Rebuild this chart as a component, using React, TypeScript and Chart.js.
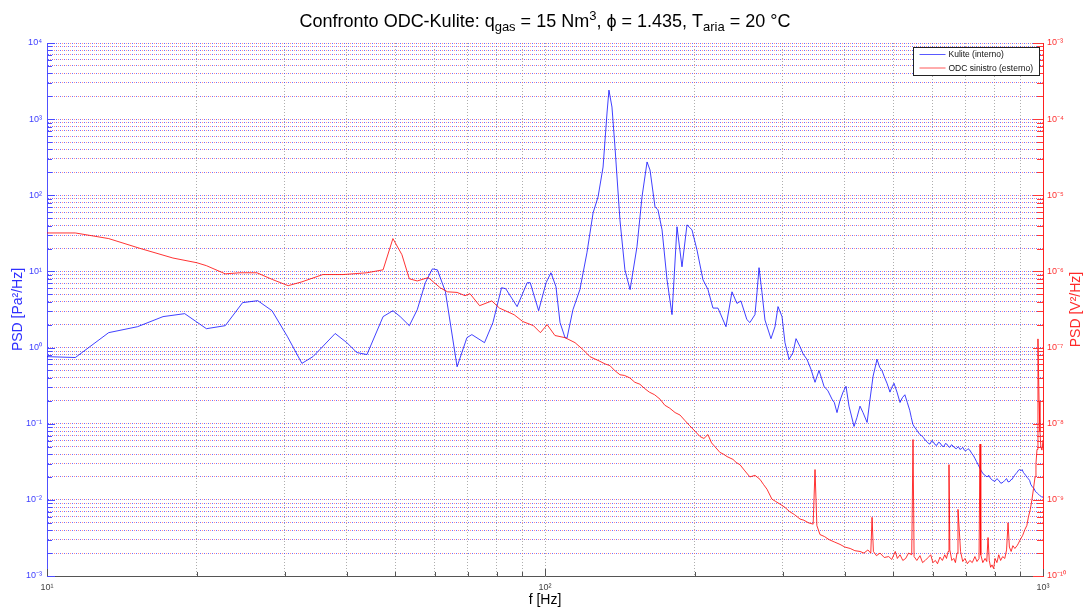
import React, { useEffect, useRef } from 'react';
import { Chart, registerables } from 'chart.js';

Chart.register(...registerables);

// ---------- data ----------
// Kulite (interno): [frequency Hz, PSD Pa^2/Hz]
const kuliteData: [number, number][] = [
  [10, 0.76], [11.4, 0.74], [13.3, 1.57], [15.2, 1.88], [17.1, 2.55], [18.9, 2.79], [20.9, 1.77],
  [22.8, 1.94], [24.7, 3.89], [26.5, 4.13], [28.3, 3.05], [30.4, 1.39], [32.5, 0.62], [34.2, 0.76],
  [35.3, 0.94], [37.9, 1.53], [40.0, 1.16], [41.9, 0.86], [43.9, 0.81], [47.3, 2.55], [49.5, 3.05],
  [51.2, 2.55], [53.4, 1.94], [55.4, 3.15], [57.5, 7.11], [59.4, 10.8], [60.8, 10.5], [63.1, 5.42],
  [66.6, 0.56], [69.7, 1.35], [71.3, 1.48], [75.6, 1.16], [78.6, 2.13], [81.8, 6.11], [83.4, 5.93],
  [87.9, 3.45], [92.1, 7.11], [93.4, 7.11], [97.1, 3.05], [100.5, 7.11], [102.8, 9.61], [105.2, 6.3],
  [107.2, 2.13], [109.7, 1.35], [110.7, 1.33], [113.8, 3.15], [117.5, 5.76], [121.4, 17.6], [124.9, 58.8],
  [127.8, 95.2], [130.8, 235], [133.2, 1202], [134.4, 2404], [136.3, 1440], [138.2, 431], [141.4, 47.6],
  [144.7, 10.5], [148.2, 5.76], [153.0, 21.1], [156.6, 95.2], [160.3, 274], [162.5, 215], [166.3, 70.5],
  [168.6, 64.4], [171.8, 35.2], [175.8, 7.78], [179.9, 2.71], [184.1, 38.6], [188.4, 11.5], [192.8, 40.9],
  [197.3, 35.2], [201.9, 19.2], [207.6, 7.78], [212.4, 5.8], [217.4, 3.3], [222.5, 3.3], [230.9, 1.88],
  [237.4, 5.4], [242.9, 3.8], [247.4, 4.1], [254.3, 2.33], [257.9, 2.13], [264.0, 2.71], [266.5, 5.26],
  [269.0, 11.2], [272.7, 5.3], [276.5, 2.3], [284.3, 1.31], [289.6, 1.88], [293.7, 3.45], [299.2, 2.55],
  [303.3, 1.16], [309.1, 0.7], [314.8, 0.86], [319.2, 1.31], [325.1, 1.03], [330, 0.82], [335.8, 0.7],
  [342, 0.52], [348.5, 0.35], [355.0, 0.5], [359, 0.4], [363.3, 0.31], [370, 0.27], [377.0, 0.21],
  [381, 0.19], [385.8, 0.14], [391, 0.2], [396.7, 0.26], [402.2, 0.31], [407.8, 0.17], [412, 0.13],
  [417.4, 0.092], [423, 0.12], [429.1, 0.17], [435.1, 0.14], [443.4, 0.104], [449, 0.2], [455.8, 0.42],
  [464.2, 0.7], [470, 0.55], [475.0, 0.5], [481, 0.4], [486.1, 0.34], [492.9, 0.26], [497, 0.3],
  [502.1, 0.34], [509.1, 0.26], [516.3, 0.19], [522, 0.22], [528, 0.24], [534, 0.19], [540, 0.15],
  [544, 0.12], [548, 0.098], [552, 0.09], [556, 0.085], [561, 0.078], [566, 0.072], [570, 0.07],
  [575, 0.066], [580, 0.061], [585, 0.058], [589, 0.055], [593, 0.054], [598, 0.06], [602, 0.058],
  [607, 0.053], [612, 0.052], [617, 0.057], [621, 0.056], [627, 0.051], [632, 0.05], [637, 0.055],
  [641, 0.054], [646, 0.05], [650, 0.049], [655, 0.053], [660, 0.051], [665, 0.048], [670, 0.047],
  [676, 0.05], [681, 0.046], [686, 0.047], [690, 0.049], [695, 0.045], [700, 0.044], [707, 0.047],
  [713, 0.045], [719, 0.041], [725, 0.038], [730, 0.035], [735, 0.032], [741, 0.029], [747, 0.026],
  [752, 0.024], [758, 0.022], [765, 0.021], [772, 0.02], [778, 0.021], [785, 0.019], [793, 0.018],
  [801, 0.0175], [808, 0.019], [815, 0.018], [823, 0.0165], [831, 0.017], [838, 0.018], [845, 0.019],
  [851, 0.0172], [858, 0.0175], [863, 0.0185], [867, 0.0186], [872, 0.02], [877, 0.021], [882, 0.022],
  [887, 0.023], [893, 0.0245], [898, 0.025], [903, 0.024], [908, 0.025], [913, 0.023], [918, 0.022],
  [923, 0.021], [929, 0.0198], [934, 0.019], [940, 0.018], [945, 0.016], [950, 0.0151], [955, 0.0145],
  [960, 0.014], [965, 0.013], [970, 0.0125], [975, 0.0122], [980, 0.0118], [985, 0.0114], [990, 0.0112],
  [995, 0.0108], [1000, 0.011],
];

// ODC sinistro (esterno): [frequency Hz, PSD V^2/Hz]
const odcData: [number, number][] = [
  [10, 3.2e-6], [11.4, 3.2e-6], [13.3, 2.7e-6], [15.4, 2.0e-6], [17.9, 1.5e-6], [20.0, 1.3e-6],
  [20.9, 1.19e-6], [22.8, 9.3e-7], [24.4, 9.6e-7], [26.4, 9.6e-7], [28.4, 7.8e-7], [30.5, 6.5e-7],
  [32.5, 7.3e-7], [35.8, 9.1e-7], [39.3, 9.1e-7], [43.9, 9.6e-7], [47.3, 1.05e-6], [49.5, 2.7e-6],
  [51.6, 1.66e-6], [53.4, 8.0e-7], [55.4, 7.5e-7], [58.3, 8.3e-7], [61.6, 6.1e-7], [63.7, 5.4e-7],
  [66.6, 5.3e-7], [69.1, 4.8e-7], [70.7, 5.1e-7], [73.9, 3.55e-7], [78.2, 4.1e-7], [81.0, 3.3e-7],
  [86.7, 2.7e-7], [90.2, 2.2e-7], [94.8, 1.94e-7], [97.9, 1.57e-7], [101.0, 2.0e-7], [104.7, 1.44e-7],
  [109.7, 1.35e-7], [114.9, 1.16e-7], [119.2, 9.4e-8], [123.1, 7.6e-8], [128.9, 6.6e-8], [132, 6.1e-8],
  [135, 5.8e-8], [138, 5.0e-8], [141.4, 4.4e-8], [144.5, 4.3e-8], [148, 4.0e-8], [151.5, 3.5e-8],
  [155.1, 3.3e-8], [158.5, 2.9e-8], [162, 2.6e-8], [166, 2.4e-8], [170.2, 2.1e-8], [174, 1.75e-8],
  [178, 1.6e-8], [182.5, 1.4e-8], [186.7, 1.3e-8], [191, 1.1e-8], [195, 9.5e-9], [200, 8.0e-9],
  [204.7, 6.8e-9], [208.5, 6.4e-9], [212.4, 7.2e-9], [216, 5.6e-9], [219.4, 5.0e-9], [224.5, 4.2e-9],
  [228, 4.0e-9], [232.0, 3.7e-9], [238.5, 3.4e-9], [242, 3.1e-9], [246.3, 2.9e-9], [252, 2.4e-9],
  [257.9, 2.0e-9], [264, 2.1e-9], [270.2, 1.86e-9], [274.5, 1.6e-9], [279.1, 1.38e-9], [285.6, 1.02e-9],
  [290, 9.6e-10], [296.4, 8.8e-10], [303, 8.0e-10], [310, 7.0e-10], [317, 6.4e-10], [325.1, 5.6e-10],
  [331, 5.4e-10], [338, 5.0e-10], [345.5, 4.8e-10], [348.5, 2.5e-9], [351.5, 4.6e-10], [356.6, 3.5e-10],
  [364, 3.3e-10], [372, 3.0e-10], [381, 2.8e-10], [391.2, 2.6e-10], [400, 2.4e-10], [410, 2.3e-10],
  [419, 2.15e-10], [429.1, 2.1e-10], [437, 2.0e-10], [445, 2.2e-10], [451, 2.0e-10], [453.7, 5.9e-10],
  [456.5, 2.1e-10], [463, 1.85e-10], [470.7, 2.0e-10], [480, 1.75e-10], [490, 1.8e-10], [497, 1.65e-10],
  [505, 2.1e-10], [510, 1.7e-10], [516.3, 1.9e-10], [523, 1.6e-10], [530, 1.7e-10], [537, 2.0e-10],
  [545, 1.9e-10], [548.3, 6.2e-9], [551, 1.8e-10], [558, 1.6e-10], [566.2, 1.85e-10], [573, 1.5e-10],
  [580, 1.6e-10], [588, 1.75e-10], [595, 1.9e-10], [601, 1.5e-10], [608, 1.6e-10], [614, 1.45e-10],
  [621, 1.77e-10], [628, 1.6e-10], [635, 1.9e-10], [640, 1.7e-10], [645, 2.1e-10], [647.5, 2.9e-9],
  [650, 2.2e-10], [656, 1.6e-10], [662, 1.7e-10], [667, 1.5e-10], [672, 2.0e-10], [675, 7.5e-10],
  [679, 4.0e-10], [683, 2.1e-10], [690, 1.55e-10], [697, 1.7e-10], [705, 1.45e-10], [713, 1.6e-10],
  [721, 1.5e-10], [730, 1.8e-10], [737, 1.55e-10], [744, 1.7e-10], [747.3, 5.4e-9], [750, 1.9e-10],
  [757, 1.5e-10], [765, 1.7e-10], [771, 1.55e-10], [775.6, 3.2e-10], [780, 1.6e-10], [785, 1.3e-10],
  [790, 1.4e-10], [796, 1.25e-10], [801, 1.7e-10], [808, 1.5e-10], [815, 1.9e-10], [822, 1.6e-10],
  [830, 1.8e-10], [838, 1.7e-10], [845, 2.2e-10], [850.8, 5.0e-10], [856, 2.4e-10], [863, 2.1e-10],
  [870, 2.5e-10], [878, 2.3e-10], [887, 2.5e-10], [893, 2.7e-10], [900, 3.0e-10], [910, 3.4e-10],
  [920, 4.1e-10], [928, 4.6e-10], [935, 6.0e-10], [943, 7.5e-10], [950, 1.0e-9], [957, 1.4e-9],
  [963.8, 2.0e-9], [968, 3.0e-9], [972.7, 4.6e-9], [977, 1.3e-7], [982, 2.0e-8], [986, 8.0e-9],
  [990, 5.0e-9], [995, 4.5e-9], [1000, 6.0e-9],
];

const legendLabels = ['Kulite (interno)', 'ODC sinistro (esterno)'];
const xDecades = [1, 3];        // 10^1 .. 10^3 Hz
const leftDecades = [-3, 4];    // 10^-3 .. 10^4 Pa^2/Hz
const rightDecades = [-10, -3]; // 10^-10 .. 10^-3 V^2/Hz
const titleParts: [string, number][] = [
  ['Confronto ODC-Kulite: q', 0], ['gas', -1], [' = 15 Nm', 0], ['3', 1],
  [', \u03D5 = 1.435, T', 0], ['aria', -1], [' = 20 \u00B0C', 0],
];
const xTitle = 'f [Hz]';
const leftTitle = 'PSD [Pa\u00B2/Hz]';
const rightTitle = 'PSD [V\u00B2/Hz]';

// ---------- helpers ----------
const FONT = "'Liberation Sans', Arial, Helvetica, sans-serif";
const SUP: Record<string, string> = {
  '0': '\u2070', '1': '\u00B9', '2': '\u00B2', '3': '\u00B3', '4': '\u2074', '5': '\u2075',
  '6': '\u2076', '7': '\u2077', '8': '\u2078', '9': '\u2079', '-': '\u207B',
};
const isPow10 = (v: number) => Math.abs(Math.log10(v) - Math.round(Math.log10(v))) < 1e-6;
const pow10Label = (v: number) => {
  if (!isPow10(v)) return '';
  const e = Math.round(Math.log10(v));
  return '10' + String(e).split('').map((c) => SUP[c]).join('');
};
const buildLogTicks = (lo: number, hi: number) => {
  const out: number[] = [];
  for (let d = lo; d < hi; d++) {
    for (let m = 1; m <= 9; m++) out.push(Number((m * Math.pow(10, d)).toPrecision(10)));
  }
  out.push(Number(Math.pow(10, hi).toPrecision(10)));
  return out;
};
const xTicks = buildLogTicks(xDecades[0], xDecades[1]);
const yTicks = buildLogTicks(leftDecades[0], leftDecades[1]);
const y2Ticks = buildLogTicks(rightDecades[0], rightDecades[1]);

// dotted grid whose dots alternate between the blue and the red axis colours
const makeGridPattern = (): CanvasPattern | string => {
  const c = document.createElement('canvas');
  c.width = 4;
  c.height = 1;
  const g = c.getContext('2d');
  if (!g) return 'rgba(140,80,200,0.5)';
  g.fillStyle = 'rgba(60,60,255,0.75)';
  g.fillRect(0, 0, 1, 1);
  g.fillStyle = 'rgba(255,70,70,0.6)';
  g.fillRect(2, 0, 1, 1);
  const p = g.createPattern(c, 'repeat');
  return p || 'rgba(140,80,200,0.5)';
};

const decorPlugin = {
  id: 'decor',
  afterDraw(chart: any) {
    const ctx: CanvasRenderingContext2D = chart.ctx;
    const a = chart.chartArea;
    const sx = chart.scales.x;
    const sy = chart.scales.y;
    const sy2 = chart.scales.y2;
    ctx.save();
    ctx.lineWidth = 1;
    ctx.setLineDash([]);
    const seg = (x1: number, y1: number, x2: number, y2: number) => {
      ctx.beginPath();
      ctx.moveTo(x1, y1);
      ctx.lineTo(x2, y2);
      ctx.stroke();
    };
    // inward tick marks
    ctx.strokeStyle = '#4a4aff';
    yTicks.forEach((v) => {
      const p = Math.round(sy.getPixelForValue(v)) + 0.5;
      seg(a.left, p, a.left + (isPow10(v) ? 8 : 5), p);
    });
    ctx.strokeStyle = '#ff3a3a';
    y2Ticks.forEach((v) => {
      const p = Math.round(sy2.getPixelForValue(v)) + 0.5;
      seg(a.right, p, a.right - (isPow10(v) ? 10 : 6), p);
    });
    ctx.strokeStyle = '#555';
    xTicks.forEach((v) => {
      const p = Math.round(sx.getPixelForValue(v)) + 0.5;
      seg(p, a.bottom, p, a.bottom - (isPow10(v) ? 7 : 4));
    });

    // title with sub/superscripts
    const cx = (a.left + a.right) / 2;
    const base = 27;
    const mainFont = `18px ${FONT}`;
    const smallFont = `13px ${FONT}`;
    let total = 0;
    titleParts.forEach(([t, k]) => {
      ctx.font = k === 0 ? mainFont : smallFont;
      total += ctx.measureText(t).width;
    });
    let x = cx - total / 2;
    ctx.fillStyle = '#000';
    ctx.textAlign = 'left';
    ctx.textBaseline = 'alphabetic';
    titleParts.forEach(([t, k]) => {
      ctx.font = k === 0 ? mainFont : smallFont;
      const dy = k === -1 ? 4 : k === 1 ? -7 : 0;
      ctx.fillText(t, x, base + dy);
      x += ctx.measureText(t).width;
    });

    // axis titles
    ctx.font = `14px ${FONT}`;
    ctx.textAlign = 'center';
    ctx.textBaseline = 'alphabetic';
    ctx.fillStyle = '#000';
    ctx.fillText(xTitle, cx, 604);
    ctx.textBaseline = 'middle';
    const midY = (a.top + a.bottom) / 2;
    ctx.save();
    ctx.translate(18, midY);
    ctx.rotate(-Math.PI / 2);
    ctx.fillStyle = '#2f2fff';
    ctx.fillText(leftTitle, 0, 0);
    ctx.restore();
    ctx.save();
    ctx.translate(1076, midY);
    ctx.rotate(-Math.PI / 2);
    ctx.fillStyle = '#ff2a2a';
    ctx.fillText(rightTitle, 0, 0);
    ctx.restore();

    // legend box
    const lx = 913.5, ly = 47.5, lw = 126, lh = 28;
    ctx.fillStyle = '#fff';
    ctx.fillRect(lx, ly, lw, lh);
    ctx.strokeStyle = '#222';
    ctx.strokeRect(lx, ly, lw, lh);
    const colors = ['rgba(60,60,255,0.85)', 'rgba(255,60,60,0.85)'];
    ctx.font = `8.5px ${FONT}`;
    ctx.textAlign = 'left';
    ctx.textBaseline = 'middle';
    legendLabels.forEach((lab, i) => {
      const yy = ly + 7 + i * 13.5;
      ctx.strokeStyle = colors[i];
      seg(lx + 6, yy, lx + 32, yy);
      ctx.fillStyle = '#111';
      ctx.fillText(lab, lx + 35, yy + 0.5);
    });
    ctx.restore();
  },
};

export default function App() {
  const ref = useRef<HTMLCanvasElement>(null);
  useEffect(() => {
    const canvas = ref.current;
    if (!canvas) return;
    const tickFont = { size: 9, family: FONT };
    const gridPattern = makeGridPattern();
    const chart = new Chart(canvas, {
      type: 'line',
      data: {
        datasets: [
          {
            label: legendLabels[1],
            data: odcData.map(([x, y]) => ({ x, y })),
            yAxisID: 'y2',
            borderColor: 'rgba(255,0,0,0.8)',
            borderWidth: 1,
            pointRadius: 0,
            tension: 0,
            fill: false,
          },
          {
            label: legendLabels[0],
            data: kuliteData.map(([x, y]) => ({ x, y })),
            yAxisID: 'y',
            borderColor: 'rgba(0,0,255,0.75)',
            borderWidth: 1,
            pointRadius: 0,
            tension: 0,
            fill: false,
          },
        ],
      },
      options: {
        responsive: false,
        animation: false,
        events: [],
        layout: { padding: { top: 43, left: 0, right: 0, bottom: 0 } },
        plugins: {
          legend: { display: false },
          tooltip: { enabled: false },
          title: { display: false },
        },
        scales: {
          x: {
            type: 'logarithmic',
            position: 'bottom',
            min: 10,
            max: 1000,
            afterBuildTicks: (s: any) => { s.ticks = xTicks.map((v) => ({ value: v })); },
            afterFit: (s: any) => { s.height = 34; },
            ticks: {
              autoSkip: false, maxRotation: 0, minRotation: 0, padding: 6, color: '#444',
              font: tickFont, callback: (v: any) => pow10Label(Number(v)),
            },
            grid: { color: 'rgba(120,120,120,0.6)', lineWidth: 1, drawTicks: false },
            border: { display: true, color: '#555', width: 1, dash: [1, 2] },
          },
          y: {
            type: 'logarithmic',
            position: 'left',
            min: Math.pow(10, leftDecades[0]),
            max: Math.pow(10, leftDecades[1]),
            afterBuildTicks: (s: any) => { s.ticks = yTicks.map((v) => ({ value: v })); },
            afterFit: (s: any) => { s.width = 47; },
            ticks: {
              autoSkip: false, padding: 5, color: '#4040ff', font: tickFont,
              callback: (v: any) => pow10Label(Number(v)),
            },
            grid: { color: gridPattern, lineWidth: 1, drawTicks: false },
            border: { display: true, color: '#5050ff', width: 1 },
          },
          y2: {
            type: 'logarithmic',
            position: 'right',
            min: Math.pow(10, rightDecades[0]),
            max: Math.pow(10, rightDecades[1]),
            afterBuildTicks: (s: any) => { s.ticks = y2Ticks.map((v) => ({ value: v })); },
            afterFit: (s: any) => { s.width = 41; },
            ticks: {
              autoSkip: false, padding: 4, color: '#ff3030', font: tickFont,
              callback: (v: any) => pow10Label(Number(v)),
            },
            grid: { drawOnChartArea: false, drawTicks: false },
            border: { display: true, color: '#ff2020', width: 1 },
          },
        },
      } as any,
      plugins: [decorPlugin],
    });
    return () => chart.destroy();
  }, []);

  return (
    <div style={{ position: 'fixed', left: 0, top: 0, width: 1084, height: 610, background: '#fff' }}>
      <canvas ref={ref} width={1084} height={610} style={{ display: 'block', width: 1084, height: 610 }} />
    </div>
  );
}
